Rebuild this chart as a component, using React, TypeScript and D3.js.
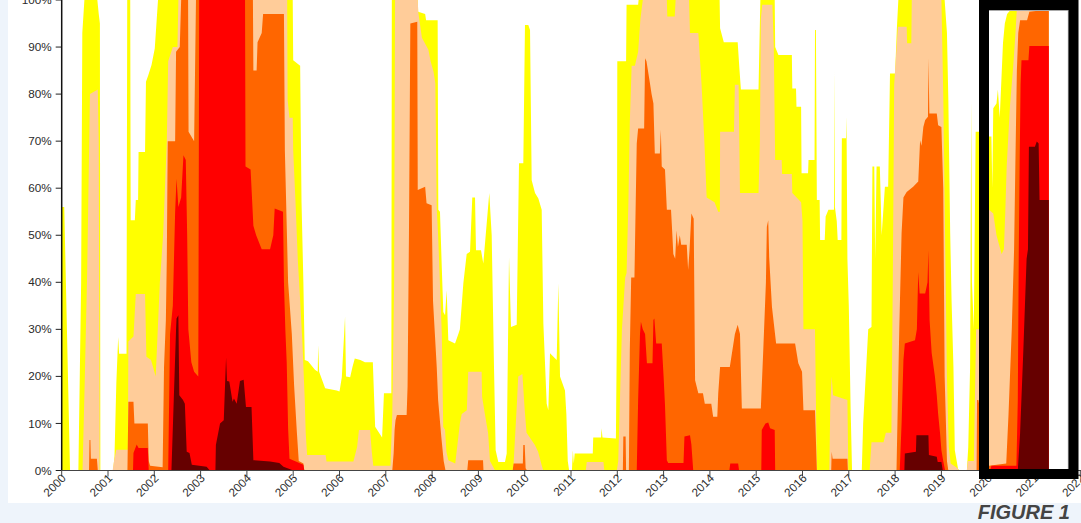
import React from "react";
import * as d3 from "d3";

// Percent of area in each drought category (cumulative: D0+ ... D4), [decimal year, percent]
const D0: [number, number][] = [
  [2000.0,56],[2000.055,56],[2000.18,0],[2000.36,0],[2000.42,40],[2000.445,93],[2000.49,100],[2000.77,100],[2000.8,97],[2000.825,95],[2000.835,0],
  [2001.11,0],[2001.14,3],[2001.18,18.6],[2001.22,28.4],[2001.24,24.8],[2001.4,24.8],[2001.415,100],[2001.48,100],[2001.49,53.2],[2001.58,53.2],[2001.6,57.5],[2001.65,57.5],[2001.66,67.7],[2001.8,67.7],[2001.82,82.6],[2001.87,84],[2001.94,86.2],[2002.01,89.7],[2002.08,100],
  [2004.99,100],[2005.0,87.2],[2005.15,86],[2005.18,57],[2005.22,40],[2005.25,23.5],[2005.32,23.2],[2005.47,21.4],[2005.53,21],[2005.54,26.7],[2005.56,21],[2005.69,17.5],[2005.94,17],[2006.0,16.8],[2006.05,19.8],[2006.12,32.7],[2006.14,20],[2006.23,19.8],[2006.28,22],[2006.33,23.8],[2006.45,23.5],[2006.55,23],[2006.72,23],[2006.77,9.3],[2006.92,7],[2006.96,16.4],[2007.12,16.4],
  [2007.13,100],[2007.69,100],[2007.7,97.5],[2007.85,97],[2007.87,95.7],[2008.12,95.7],[2008.134,55.4],[2008.17,55],[2008.21,43],[2008.242,33.7],[2008.28,33],[2008.315,38.3],[2008.35,27.7],[2008.495,27],[2008.567,29],[2008.6,30],[2008.675,39.8],[2008.747,46],[2008.819,46.5],[2008.868,58],[2008.927,58],[2008.948,46.8],[2009.056,46.8],[2009.106,44],[2009.235,59],[2009.287,50],[2009.337,22],[2009.373,4.3],[2009.43,1.8],[2009.574,1.8],[2009.611,3.6],[2009.661,45.4],[2009.704,30.5],[2009.827,31],[2009.877,65.3],[2009.97,65.3],[2010.006,94.7],[2010.078,94.7],[2010.115,93.6],[2010.151,61.7],[2010.223,59],[2010.295,57.8],[2010.367,55.4],[2010.403,31.3],[2010.475,14.2],[2010.51,12.8],[2010.547,24.9],[2010.691,23.5],[2010.727,39.8],[2010.763,20],[2010.87,17],[2010.9,12],[2010.93,2],[2010.96,0],
  [2011.02,0],[2011.04,4.3],[2011.06,1.5],[2011.08,3.6],[2011.47,3.6],[2011.48,7],[2011.65,7],[2011.66,9],[2011.68,7],[2011.97,6.8],[2011.99,29],[2012.0,87],[2012.19,87],[2012.2,99],[2012.45,99],[2012.46,100],
  [2014.21,100],[2014.22,94],[2014.3,91],[2014.6,91],[2014.64,85],[2014.67,81],[2015.05,81],[2015.09,100],[2015.4,100],[2015.41,90],[2015.48,88.3],[2015.77,88.3],[2015.78,81.2],[2015.86,81.2],[2015.87,77.3],[2015.97,77.3],[2015.98,63.2],[2016.12,63.2],[2016.13,66],[2016.26,66],[2016.27,93.6],[2016.29,93.6],[2016.31,57.5],[2016.37,57.5],[2016.38,49],[2016.48,49],[2016.5,54],[2016.56,55.4],[2016.68,55.4],[2016.69,85],[2016.7,56],[2016.74,53],[2016.76,49],[2016.84,49],[2016.85,70.6],[2016.94,70.6],[2016.95,75.2],[2016.97,45],[2017.0,35],[2017.04,13],[2017.07,0],[2017.28,0],
  [2017.31,10],[2017.42,30],[2017.49,30.5],[2017.51,64.6],[2017.55,64.6],[2017.57,45],[2017.6,64.6],[2017.67,64.6],[2017.71,50],[2017.78,60.3],[2017.85,60.3],[2017.89,84.4],[2018.0,84.4],[2018.04,94.3],[2018.07,100],
  [2019.07,100],[2019.12,93],[2019.15,78.7],[2019.19,50.4],[2019.22,36],[2019.26,22],[2019.29,4.3],[2019.36,0.3],[2019.4,0],[2019.55,0],[2019.58,5],[2019.62,22],[2019.645,78.7],[2019.66,40],[2019.7,30],[2019.74,72],[2019.82,72],
  [2020.03,71],[2020.08,71],[2020.1,60],[2020.12,77],[2020.19,78],[2020.22,81],[2020.26,75],[2020.3,84],[2020.33,90.8],[2020.37,95],[2020.42,97],[2020.5,98],[2020.6,100],[2021.32,100],
];

const D1: [number, number][] = [
  [2000.0,0],[2000.45,0],[2000.5,20],[2000.55,42],[2000.61,80],[2000.78,81],[2000.8,70],[2000.82,0],
  [2001.1,0],[2001.13,2],[2001.18,4.4],[2001.43,4.4],[2001.44,27.4],[2001.55,28.5],[2001.6,37.5],[2001.8,37.5],[2001.83,24.2],[2001.93,23.5],[2002.03,20],[2002.12,40],[2002.19,50],[2002.27,70],[2002.3,87],[2002.4,90],[2002.5,90],[2002.52,100],
  [2004.87,100],[2004.88,78.7],[2004.92,75],[2004.99,75],[2005.0,68],[2005.05,57],[2005.1,44.7],[2005.15,36.2],[2005.2,27],[2005.25,15],[2005.27,8],[2005.3,3.3],[2005.7,3.3],[2005.72,1.9],[2006.3,1.9],[2006.38,5],[2006.42,8.6],[2006.66,8.6],[2006.7,3.7],[2006.73,1],[2007.1,1],[2007.14,12],[2007.18,40],
  [2007.2,100],[2007.69,100],[2007.7,97.5],[2007.78,92],[2007.92,89.4],[2007.97,86.9],[2008.03,84.8],[2008.07,82.3],[2008.1,55.7],[2008.13,50],[2008.18,37],[2008.21,29],[2008.24,9.3],[2008.28,8.6],[2008.31,4],[2008.35,2.2],[2008.5,1.5],[2008.6,10],[2008.64,12],[2008.75,12.8],[2008.78,21],[2009.07,21],[2009.08,15.7],[2009.14,12],[2009.21,7.9],[2009.25,2],[2009.36,0],
  [2009.74,0],[2009.76,1.5],[2009.83,14],[2009.86,20],[2009.95,20.5],[2010.0,12.9],[2010.04,8],[2010.22,5.4],[2010.29,4],[2010.37,1],[2010.4,0],
  [2011.32,0],[2011.34,1.8],[2011.7,1.8],[2011.72,0],
  [2011.99,0],[2012.02,2],[2012.1,30],[2012.17,41],[2012.2,42],[2012.24,57],[2012.27,74],[2012.31,86],[2012.38,86],[2012.45,89],[2012.5,96],[2012.55,100],[2013.07,100],[2013.08,96.5],[2013.24,96.5],[2013.26,100],[2013.55,100],[2013.57,93],[2013.75,93],[2013.82,82],[2013.88,70],[2013.93,58],[2014.1,57],[2014.18,55],[2014.215,55],
  [2014.22,72],[2014.52,72],[2014.54,82],[2014.62,82],[2014.65,59],[2015.05,59],[2015.08,70],[2015.1,96],[2015.13,99],[2015.35,99],[2015.38,90],[2015.41,66],[2015.55,66],[2015.56,63],[2015.77,63],[2015.78,59],[2015.97,57],[2016.0,53],[2016.02,30],[2016.27,30],[2016.31,0],
  [2016.58,0],[2016.6,14],[2016.63,20],[2016.66,16],[2016.97,15],[2016.99,0],
  [2017.45,0],[2017.49,6],[2017.75,6],[2017.8,8],[2017.92,8],[2017.95,40],[2017.98,82],[2018.06,94.3],[2018.25,94.3],[2018.26,90.8],[2018.35,90.8],[2018.36,100],[2019.0,100],[2019.04,80],[2019.08,50],[2019.12,20],[2019.16,5],[2019.2,1.5],[2019.35,0.5],[2019.38,0],
  [2019.55,0],[2019.57,2],[2019.7,2],[2019.75,30],[2019.82,30],
  [2020.03,55.4],[2020.12,54.6],[2020.19,50],[2020.3,46],[2020.35,47],[2020.38,55],[2020.41,64.6],[2020.48,77.3],[2020.55,85.8],[2020.6,93],[2020.64,100],[2021.32,100],
];

const D2: [number, number][] = [
  [2000.0,0],[2000.59,0],[2000.6,6.5],[2000.62,6.5],[2000.63,2.5],[2000.76,2.5],[2000.78,0],
  [2001.42,0],[2001.44,14.6],[2001.55,14.6],[2001.57,10],[2001.86,10],[2001.88,2],[2001.91,1],[2002.18,0.7],[2002.21,22],[2002.25,32],[2002.27,45],[2002.29,70],[2002.45,70],[2002.47,89],[2002.55,90],[2002.58,100],[2002.73,100],[2002.74,72],[2002.86,70],[2002.9,100],
  [2004.13,100],[2004.14,85],[2004.21,85],[2004.23,91],[2004.32,93],[2004.35,97],[2004.8,97],[2004.82,68],[2004.89,40],[2004.97,29],[2005.02,18],[2005.08,8],[2005.12,2],[2005.22,1.5],[2005.24,0],
  [2007.14,0],[2007.17,3.7],[2007.19,8.6],[2007.21,10.7],[2007.24,11.8],[2007.45,11.8],[2007.47,17.8],[2007.5,50],[2007.53,95],[2007.68,95.4],[2007.69,59.6],[2007.85,60.3],[2007.88,56.8],[2007.99,56.4],[2008.02,36],[2008.06,29],[2008.1,22],[2008.13,15],[2008.2,7],[2008.25,2],[2008.29,0],
  [2008.76,0],[2008.78,2.2],[2009.1,2.2],[2009.11,0],[2009.74,0],[2009.76,1.5],[2009.96,1.5],[2009.97,5.4],[2010.0,5.4],[2010.02,0.5],[2010.05,0],
  [2012.12,0],[2012.13,7.2],[2012.18,7.2],[2012.19,0],[2012.25,0],[2012.27,25.6],[2012.3,41],[2012.37,41],[2012.42,69.5],[2012.45,72.7],[2012.58,72.7],[2012.6,87.6],[2012.63,87],[2012.7,82.6],[2012.74,80],[2012.78,78],[2012.81,67.4],[2012.92,67.4],[2012.94,72.4],[2012.96,64.6],[2013.03,64],[2013.07,55.4],[2013.16,55.4],[2013.18,51.8],[2013.21,46],[2013.25,45],[2013.28,51],[2013.31,47.5],[2013.35,50],[2013.38,48],[2013.5,48],[2013.53,42.6],[2013.56,46.8],[2013.6,54.6],[2013.65,53.5],[2013.68,19.2],[2013.75,16.4],[2013.85,16.4],[2013.89,14.2],[2014.03,14.2],[2014.07,11.4],[2014.16,11.4],[2014.18,16.4],[2014.22,22],[2014.43,22],[2014.54,29],[2014.6,31],[2014.65,29],[2014.67,21],[2014.69,13.2],[2015.1,13.2],[2015.15,25],[2015.21,40],[2015.23,51.8],[2015.26,53.2],[2015.28,45.4],[2015.34,34.8],[2015.43,27],[2015.84,27],[2015.91,22.8],[2015.99,21],[2016.02,12.8],[2016.27,12.8],[2016.31,0],
  [2016.62,0],[2016.63,4],[2016.65,2.5],[2016.97,2.5],[2016.98,0],
  [2018.03,0],[2018.09,30],[2018.14,50.4],[2018.18,58],[2018.25,59.2],[2018.39,60.3],[2018.5,61.4],[2018.54,70.2],[2018.57,69],[2018.61,73],[2018.65,74.5],[2018.71,75.2],[2018.72,87.6],[2018.74,75.9],[2018.9,75.9],[2018.93,73.4],[2019.0,73],[2019.04,60],[2019.07,20],[2019.12,2],[2019.15,0],
  [2019.76,0],[2019.77,15],[2019.8,15],[2020.03,1],[2020.4,1.5],[2020.45,12],[2020.52,30],[2020.57,47],[2020.6,66.7],[2020.63,85],[2020.66,93],[2020.7,95.7],[2020.85,95.7],[2020.9,97.5],[2021.32,98],
];

const D3: [number, number][] = [
  [2000.0,0],[2001.54,0],[2001.55,3.7],[2001.62,5.5],[2001.66,4.8],[2001.86,4.8],[2001.88,0],
  [2002.3,0],[2002.34,29],[2002.4,35],[2002.45,55],[2002.48,62],[2002.52,56],[2002.58,58],[2002.63,67],[2002.68,66],[2002.71,50],[2002.735,30],[2002.8,23],[2002.86,21],[2002.95,20],[2002.97,100],
  [2003.96,100],[2003.97,64.6],[2004.08,64],[2004.14,52],[2004.2,50],[2004.32,47],[2004.5,47],[2004.57,50],[2004.6,55.7],[2004.78,55],[2004.8,40],[2004.83,30],[2004.86,23],[2004.89,9],[2004.92,2.5],[2005.22,1.2],[2005.24,0],
  [2012.42,0],[2012.45,15],[2012.49,29],[2012.51,31.6],[2012.55,30],[2012.6,29],[2012.64,22.8],[2012.76,22.8],[2012.78,32],[2012.8,32.3],[2012.84,27],[2012.96,27],[2013.0,20],[2013.03,13.9],[2013.07,2.2],[2013.1,1.6],[2013.43,1.6],[2013.45,7.2],[2013.57,7.5],[2013.6,5.5],[2013.64,0],
  [2014.42,0],[2014.44,1.5],[2014.61,1.5],[2014.63,0],[2015.11,0],[2015.12,8.6],[2015.2,10],[2015.26,10.2],[2015.3,9],[2015.4,8.6],[2015.41,0],
  [2018.1,0],[2018.14,10],[2018.18,23.5],[2018.21,27],[2018.43,27.7],[2018.47,30],[2018.5,42.2],[2018.53,37.6],[2018.65,37.6],[2018.7,40],[2018.72,46.8],[2018.745,32],[2018.79,25],[2018.86,20],[2018.9,16],[2018.93,12],[2018.97,8],[2019.0,4.3],[2019.04,2],[2019.08,0],
  [2020.05,0],[2020.08,1],[2020.62,1],[2020.65,15],[2020.67,45],[2020.69,65],[2020.71,82],[2020.73,87.2],[2020.88,87.2],[2020.9,90.2],[2021.32,90.2],
];

const D4: [number, number][] = [
  [2000.0,0],[2002.37,0],[2002.42,15],[2002.47,30],[2002.48,32.3],[2002.52,33],[2002.54,16],[2002.62,15],[2002.66,14.2],[2002.7,4],[2002.76,3.7],[2002.81,1.2],[2003.13,0.8],[2003.2,0],
  [2003.32,0],[2003.33,5.4],[2003.42,10],[2003.5,10.7],[2003.55,24],[2003.57,19],[2003.62,18.9],[2003.69,14.6],[2003.72,15.3],[2003.78,14.2],[2003.85,19],[2003.93,19.3],[2003.98,13.5],[2004.1,13.5],[2004.14,2.2],[2004.5,1.9],[2004.7,1.6],[2004.79,0.8],[2004.95,0.2],[2005.0,0],
  [2018.2,0],[2018.21,3.6],[2018.45,4],[2018.46,7.5],[2018.72,7.5],[2018.73,3.3],[2018.9,2.9],[2018.92,1.8],[2019.0,1.8],[2019.03,0],
  [2020.65,0],[2020.7,8],[2020.77,25.6],[2020.84,45],[2020.87,47],[2020.89,68.8],[2021.02,68.8],[2021.06,69.9],[2021.1,69.5],[2021.12,57.5],[2021.32,57.5],
];

const SERIES = [D0, D1, D2, D3, D4];
const COLORS = ["#FFFF00", "#FFCC99", "#FF6600", "#FF0000", "#660000"];
const YEARS = d3.range(2000, 2023);
const Y_TICKS = d3.range(0, 101, 10);

const W = 1081;
const H = 523;

export default function App() {
  const x = d3.scaleLinear().domain([2000, 2022]).range([61.7, 1080.3]);
  const y = d3.scaleLinear().domain([0, 100]).range([470.5, 0]);
  const area = d3
    .area<[number, number]>()
    .x((d) => x(d[0]))
    .y0(y(0))
    .y1((d) => y(d[1]))
    .curve(d3.curveLinear);
  const font = "'Liberation Sans', Arial, Helvetica, sans-serif";
  return (
    <div style={{ position: "absolute", left: 0, top: 0, width: W, height: H }}>
      <svg width={W} height={H} style={{ display: "block" }}>
        <defs>
          <clipPath id="plot">
            <rect x={x(2000)} y={0} width={W - x(2000)} height={y(0)} />
          </clipPath>
        </defs>
        <rect x={0} y={0} width={W} height={H} fill="#EEF4FB" />
        <rect x={8} y={0} width={W - 8} height={503} fill="#FFFFFF" />
        <g clipPath="url(#plot)">
          {SERIES.map((s, i) => (
            <path key={i} d={area(s) || ""} fill={COLORS[i]} />
          ))}
        </g>
        {/* y axis */}
        <g fontFamily={font} fontSize={11.7} fill="#2a2a2a">
          {Y_TICKS.map((t) => (
            <g key={t}>
              <line x1={x(2000) - 6} x2={x(2000)} y1={y(t)} y2={y(t)} stroke="#222" />
              <text x={x(2000) - 10} y={y(t)} dy="0.35em" textAnchor="end">
                {t}%
              </text>
            </g>
          ))}
          <line x1={x(2000)} x2={x(2000)} y1={y(0)} y2={y(100)} stroke="#111" strokeWidth={1.5} />
        </g>
        {/* x axis */}
        <g fontFamily={font} fontSize={11.7} fill="#2a2a2a">
          <line x1={x(2000)} x2={W} y1={y(0)} y2={y(0)} stroke="#444" strokeWidth={1.2} />
          {YEARS.map((yr) => {
            const cx = x(yr) + 5;
            const cy = y(0) + 8.5;
            return (
              <g key={yr}>
                <line x1={x(yr)} x2={x(yr)} y1={y(0)} y2={y(0) + 6} stroke="#444" />
                <text x={cx} y={cy} textAnchor="end" transform={`rotate(-45 ${cx} ${cy})`}>
                  {yr}
                </text>
              </g>
            );
          })}
        </g>
        {/* highlight box */}
        <line x1={1068.3} x2={1068.3} y1={10} y2={469} stroke="#aaa" strokeWidth={1} />
        <line x1={989} x2={1068.3} y1={10.5} y2={10.5} stroke="#aaa" strokeWidth={1} />
        <rect x={984} y={5} width={89.5} height={469} fill="none" stroke="#000" strokeWidth={10} />
        <text x={1070} y={519} textAnchor="end" fontFamily={font} fontSize={20} fontWeight="bold" fontStyle="italic" fill="#444">
          FIGURE 1
        </text>
      </svg>
    </div>
  );
}
